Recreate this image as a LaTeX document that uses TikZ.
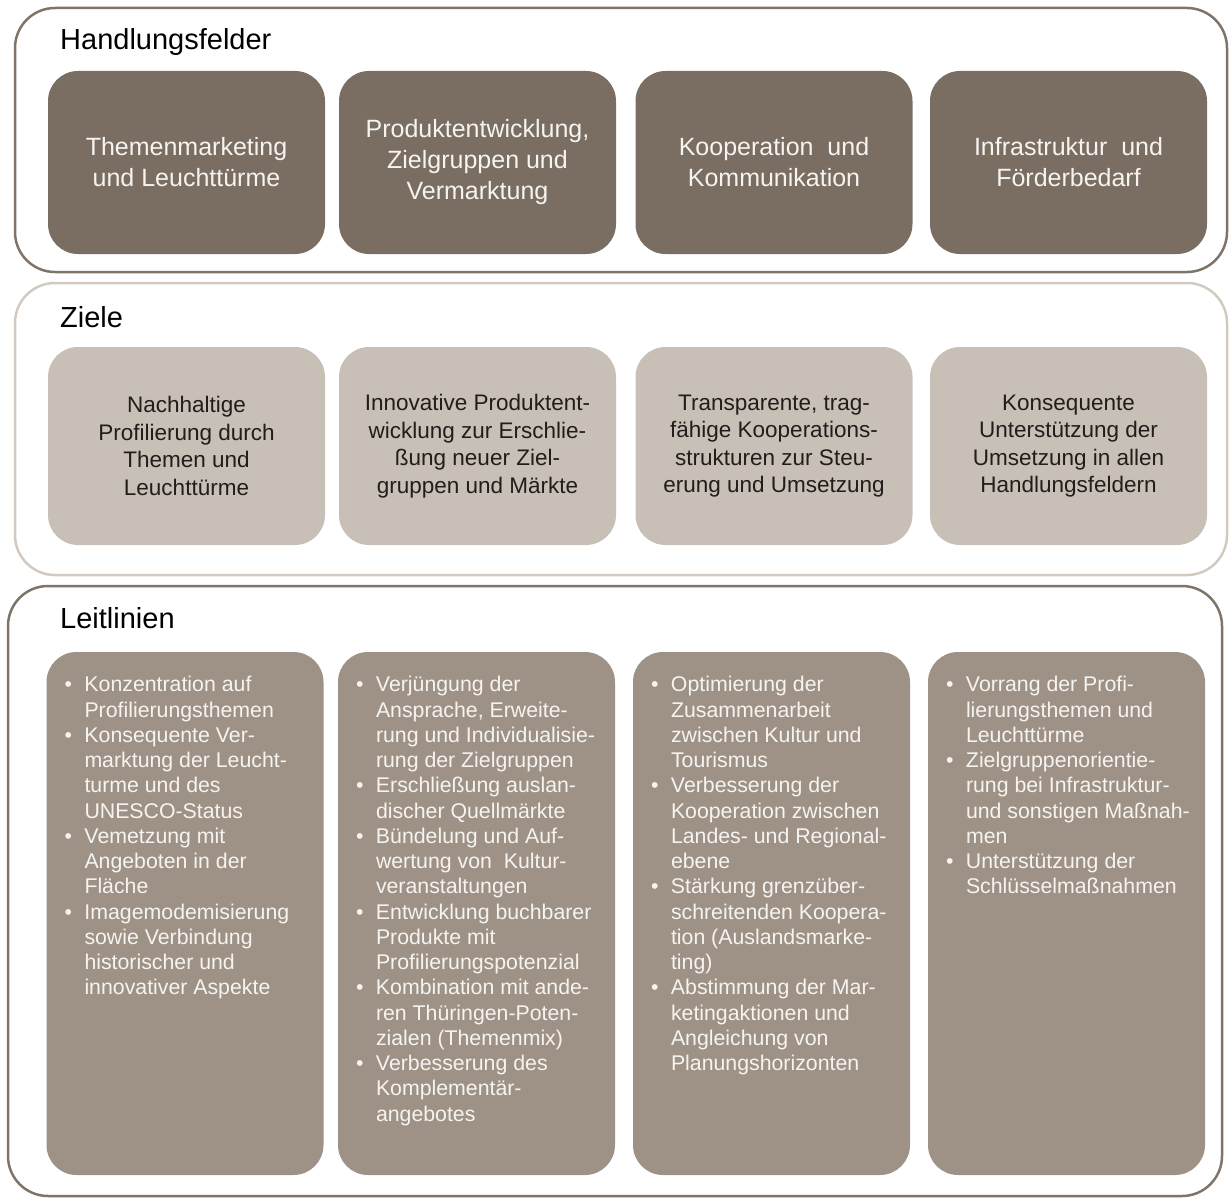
\documentclass[tikz,border=0pt]{standalone}
\usepackage{fontspec}
\setmainfont{Liberation Sans}
\usepackage{tikz}
\usetikzlibrary{positioning}
\definecolor{FeldBraun}{RGB}{122,110,98}
\definecolor{ZielGrau}{RGB}{200,192,183}
\definecolor{LeitGrau}{RGB}{158,146,134}
\definecolor{RandDunkel}{RGB}{128,116,104}
\definecolor{RandHell}{RGB}{210,202,192}
\definecolor{TextHell}{RGB}{246,244,241}
\definecolor{TextDunkel}{RGB}{32,29,27}

\newcommand{\bl}{\makebox[21pt][l]{\hspace{1pt}\textbullet}}

\begin{document}
\begin{tikzpicture}[x=1pt, y=-1pt,
	rahmen/.style={line width=2.5pt, rounded corners=40pt},
	kasten/.style={rounded corners=30pt, minimum width=277pt, inner sep=0pt, align=center},
	feld/.style={kasten, fill=FeldBraun, minimum height=183pt, text=TextHell, font=\fontsize{25}{31}\selectfont},
	ziel/.style={kasten, fill=ZielGrau, minimum height=198pt, text=TextDunkel, font=\fontsize{22.5}{27.5}\selectfont},
	leit/.style={kasten, fill=LeitGrau, minimum height=523pt},
	leittext/.style={anchor=base west, inner sep=0pt, text=TextHell, font=\fontsize{21.3}{25.25}\selectfont},
	titel/.style={anchor=base west, inner sep=0pt, text=black, font=\fontsize{29}{29}\selectfont}]
	
	\useasboundingbox (0,0) rectangle (1229,1199);
	
	% drei Ebenen
	\draw[rahmen, RandDunkel] (15,8) rectangle (1227,272);
	\draw[rahmen, RandHell] (15,283) rectangle (1227,575);
	\draw[rahmen, RandDunkel] (8,586) rectangle (1222,1196);
	
	\node[titel] (hf) at (60,50) {Handlungsfelder};
	\node[titel] (zi) at (60,327) {Ziele};
	\node[titel] (ll) at (60,628) {Leitlinien};
	
	% Handlungsfelder
	\node[feld] (f1) at (186.5,162.5) {Themenmarketing\\und Leuchttürme};
	\node[feld] (f2) at (477.5,162.5) {Produktentwicklung,\\Zielgruppen und\\Vermarktung};
	\node[feld] (f3) at (774,162.5) {Kooperation~ und\\Kommunikation};
	\node[feld] (f4) at (1068.5,162.5) {Infrastruktur~ und\\Förderbedarf};
	
	% Ziele
	\node[ziel] (z1) at (186.5,446) {Nachhaltige\\Profilierung durch\\Themen und\\Leuchttürme};
	\node[ziel] (z2) at (477.5,446) {Innovative Produktent-\\wicklung zur Erschlie-\\ßung neuer Ziel-\\gruppen und Märkte};
	\node[ziel] (z3) at (774,446) {Transparente, trag-\\fähige Kooperations-\\strukturen zur Steu-\\erung und Umsetzung};
	\node[ziel] (z4) at (1068.5,446) {Konsequente\\Unterstützung der\\Umsetzung in allen\\Handlungsfeldern};
	
	% Leitlinien
	\node[leit] (l1) at (185,913.5) {};
	\node[leit] (l2) at (476.5,913.5) {};
	\node[leit] (l3) at (771.5,913.5) {};
	\node[leit] (l4) at (1066.5,913.5) {};
	
	\node[leittext] (t1) at ([xshift=17pt,yshift=-40pt]l1.north west) {\begin{tabular}[t]{@{}l@{}l@{}}
		\bl & Konzentration auf\\
		& Profilierungsthemen\\
		\bl & Konsequente Ver-\\
		& marktung der Leucht-\\
		& turme und des\\
		& UNESCO-Status\\
		\bl & Vemetzung mit\\
		& Angeboten in der\\
		& Fläche\\
		\bl & Imagemodemisierung\\
		& sowie Verbindung\\
		& historischer und\\
		& innovativer Aspekte
	\end{tabular}};
	\node[leittext] (t2) at ([xshift=17pt,yshift=-40pt]l2.north west) {\begin{tabular}[t]{@{}l@{}l@{}}
		\bl & Verjüngung der\\
		& Ansprache, Erweite-\\
		& rung und Individualisie-\\
		& rung der Zielgruppen\\
		\bl & Erschließung auslan-\\
		& discher Quellmärkte\\
		\bl & Bündelung und Auf-\\
		& wertung von~ Kultur-\\
		& veranstaltungen\\
		\bl & Entwicklung buchbarer\\
		& Produkte mit\\
		& Profilierungspotenzial\\
		\bl & Kombination mit ande-\\
		& ren Thüringen-Poten-\\
		& zialen (Themenmix)\\
		\bl & Verbesserung des\\
		& Komplementär-\\
		& angebotes
	\end{tabular}};
	\node[leittext] (t3) at ([xshift=17pt,yshift=-40pt]l3.north west) {\begin{tabular}[t]{@{}l@{}l@{}}
		\bl & Optimierung der\\
		& Zusammenarbeit\\
		& zwischen Kultur und\\
		& Tourismus\\
		\bl & Verbesserung der\\
		& Kooperation zwischen\\
		& Landes- und Regional-\\
		& ebene\\
		\bl & Stärkung grenzüber-\\
		& schreitenden Koopera-\\
		& tion (Auslandsmarke-\\
		& ting)\\
		\bl & Abstimmung der Mar-\\
		& ketingaktionen und\\
		& Angleichung von\\
		& Planungshorizonten
	\end{tabular}};
	\node[leittext] (t4) at ([xshift=17pt,yshift=-40pt]l4.north west) {\begin{tabular}[t]{@{}l@{}l@{}}
		\bl & Vorrang der Profi-\\
		& lierungsthemen und\\
		& Leuchttürme\\
		\bl & Zielgruppenorientie-\\
		& rung bei Infrastruktur-\\
		& und sonstigen Maßnah-\\
		& men\\
		\bl & Unterstützung der\\
		& Schlüsselmaßnahmen
	\end{tabular}};
	
\end{tikzpicture}
\end{document}
